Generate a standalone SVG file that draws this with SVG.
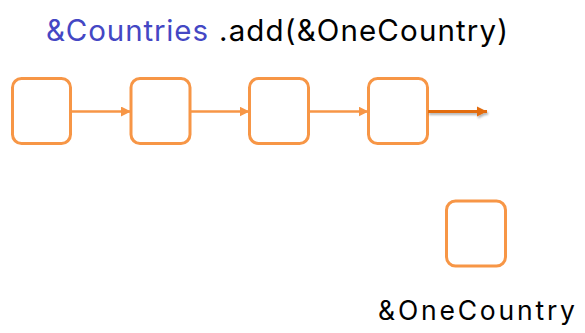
<svg xmlns="http://www.w3.org/2000/svg" width="585" height="333" viewBox="0 0 585 333">
<style>
.node{fill:#fff;stroke:#F79646;stroke-width:3}
.link{stroke:#F79646;stroke-width:2.5;fill:none}
.t{font-family:Inter,"Liberation Sans",sans-serif}
</style>
<defs>
<marker id="ah" viewBox="0 0 10 10" refX="10" refY="5" markerWidth="4" markerHeight="4" orient="auto" markerUnits="strokeWidth"><path d="M0,0L10,5L0,10z" fill="#F79646"/></marker>
<marker id="ah2" viewBox="0 0 10 10" refX="10" refY="5" markerWidth="3.5" markerHeight="3.5" orient="auto" markerUnits="strokeWidth"><path d="M0,0L10,5L0,10z" fill="#E36C0A"/></marker>
<filter id="sh" filterUnits="userSpaceOnUse" x="420" y="100" width="80" height="25"><feDropShadow dx="1" dy="2" stdDeviation="1.2" flood-color="#000" flood-opacity="0.3"/></filter>
</defs>
<g id="title"><text class="t" x="46" y="41" font-size="29.5" fill="#4447C4" textLength="162" lengthAdjust="spacing">&amp;Countries</text><text class="t" x="219" y="41" font-size="29.5" fill="#000" textLength="289" lengthAdjust="spacing">.add(&amp;OneCountry)</text></g>
<g id="n1"><rect class="node" x="12.5" y="78.5" width="58" height="65" rx="9"/></g>
<g id="n2"><rect class="node" x="131" y="78.5" width="59" height="65" rx="9"/></g>
<g id="n3"><rect class="node" x="249.5" y="78.5" width="59" height="65" rx="9"/></g>
<g id="n4"><rect class="node" x="368.5" y="78.5" width="59" height="65" rx="9"/></g>
<g id="n5"><rect class="node" x="446.5" y="201" width="59" height="65" rx="9"/></g>
<g id="connectors">
<line class="link" x1="70.5" y1="111.5" x2="131" y2="111.5" marker-end="url(#ah)"/>
<line class="link" x1="190" y1="111.5" x2="249.5" y2="111.5" marker-end="url(#ah)"/>
<line class="link" x1="308.5" y1="111.5" x2="368.5" y2="111.5" marker-end="url(#ah)"/>
<line x1="428" y1="111.5" x2="487" y2="111.5" stroke="#E36C0A" stroke-width="3" marker-end="url(#ah2)" filter="url(#sh)"/>
</g>
<g id="label"><text class="t" x="378" y="320" font-size="26.5" fill="#000" textLength="197" lengthAdjust="spacing">&amp;OneCountry</text></g>
</svg>
